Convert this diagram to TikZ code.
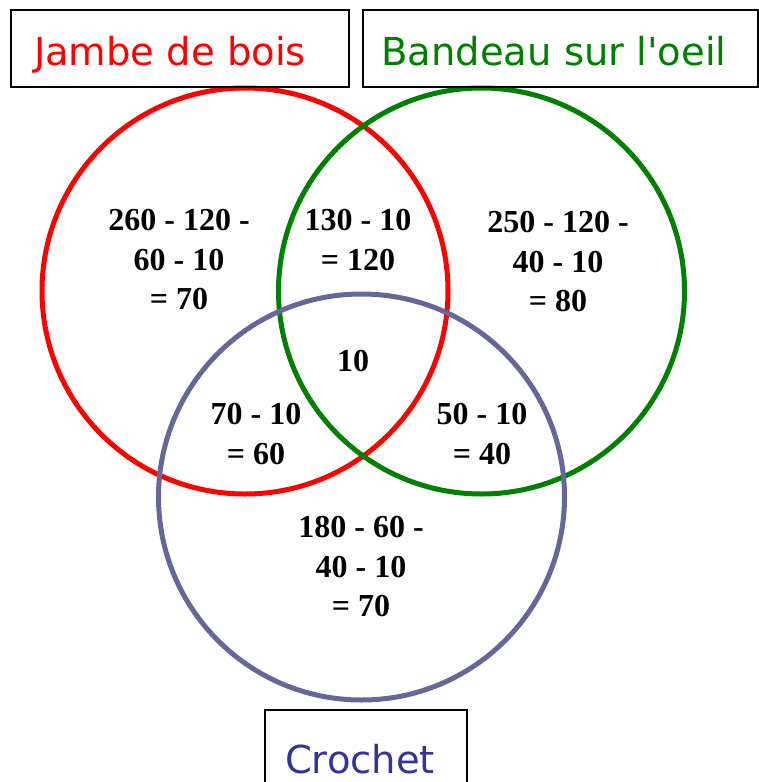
\documentclass[tikz,border=0pt]{standalone}
\usepackage{fontspec}
\setmainfont{Liberation Serif}
\newfontfamily\labelfont{DejaVu Sans}
\definecolor{vgreen}{RGB}{0,128,0}
\definecolor{vpurple}{RGB}{102,102,153}
\definecolor{vblue}{RGB}{51,51,153}
\begin{document}
\begin{tikzpicture}[x=1pt,y=-1pt,
  setcircle/.style={circle, draw, line width=5pt, minimum size=406pt, inner sep=0pt},
  labelbox/.style={draw=black, line width=1.3pt, inner sep=0pt},
  labeltext/.style={font=\labelfont\fontsize{38.5}{44}\selectfont, inner sep=0pt, anchor=base},
  numtext/.style={font=\bfseries\fontsize{32}{39.5}\selectfont, align=center, inner sep=0pt}]
\clip (0,0) rectangle (759,782);
\useasboundingbox (0,0) rectangle (759,782);
\node[setcircle, draw=red] (cr) at (245,291) {};
\node[setcircle, draw=vgreen] (cg) at (481.5,291) {};
\node[setcircle, draw=vpurple] (cp) at (361.5,497) {};
\node[labelbox, minimum width=338pt, minimum height=77pt] (bj) at (180,48.5) {};
\node[labelbox, minimum width=395pt, minimum height=77pt] (bb) at (560.5,48.5) {};
\node[labelbox, minimum width=202pt, minimum height=100pt] (bc) at (366,760) {};
\node[labeltext, text=red] (tj) at (170,65) {Jambe de bois};
\node[labeltext, text=vgreen] (tb) at (554,65) {Bandeau sur l'oeil};
\node[labeltext, text=vblue] (tc) at (360,773) {Crochet};
\node[numtext] (n1) at (179,260) {260 - 120 -\\60 - 10\\= 70};
\node[numtext] (n2) at (358,240) {130 - 10\\= 120};
\node[numtext] (n3) at (558,262) {250 - 120 -\\40 - 10\\= 80};
\node[numtext] (n4) at (353,361) {10};
\node[numtext] (n5) at (256,434) {70 - 10\\= 60};
\node[numtext] (n6) at (482,434) {50 - 10\\= 40};
\node[numtext] (n7) at (361,567) {180 - 60 -\\40 - 10\\= 70};
\end{tikzpicture}
\end{document}
